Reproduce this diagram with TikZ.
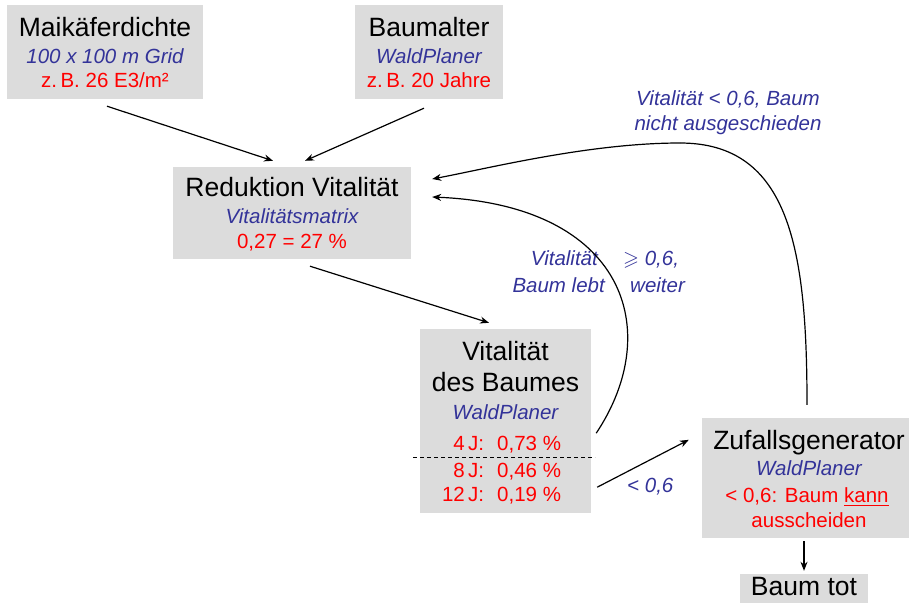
\documentclass[tikz,border=0pt]{standalone}
\usepackage{amssymb}
\usepackage{fontspec}
\setmainfont{Liberation Sans}
\usetikzlibrary{arrows.meta}
\definecolor{boxgray}{RGB}{220,220,220}
\definecolor{myblue}{RGB}{51,51,153}
\begin{document}
\begin{tikzpicture}[x=1pt,y=-1pt,
  box/.style={fill=boxgray,draw=none,inner sep=0pt},
  ttl/.style={font=\fontsize{26.5}{30}\selectfont,anchor=base,inner sep=0pt},
  sub/.style={font=\fontsize{20.5}{24}\selectfont\itshape,text=myblue,anchor=base,inner sep=0pt},
  val/.style={font=\fontsize{20.5}{24}\selectfont,text=red,anchor=base,inner sep=0pt},
  arr/.style={-{Stealth[length=9pt,width=7pt]},line width=1.2pt}]
\useasboundingbox (0,0) rectangle (909,603);
% boxes
\node[box,minimum width=196pt,minimum height=94pt] (mk) at (105,52) {};
\node[box,minimum width=148pt,minimum height=94pt] (ba) at (429,52) {};
\node[box,minimum width=238pt,minimum height=92pt] (rv) at (292,213) {};
\node[box,minimum width=171pt,minimum height=184pt] (vb) at (505.5,421) {};
\node[box,minimum width=207pt,minimum height=120pt] (zg) at (805.5,478) {};
\node[box,minimum width=128pt,minimum height=29pt] (bt) at (804,588.5) {};
% texts
\node[ttl] (mk1) at (105,36) {Maikäferdichte};
\node[sub] (mk2) at (105,63) {100 x 100 m Grid};
\node[val] (mk3) at (105,87) {z.\,B. 26 E3/m²};
\node[ttl] (ba1) at (429,36) {Baumalter};
\node[sub] (ba2) at (429,63) {WaldPlaner};
\node[val] (ba3) at (429,87) {z.\,B. 20 Jahre};
\node[ttl] (rv1) at (292,196) {Reduktion Vitalität};
\node[sub] (rv2) at (292,223) {Vitalitätsmatrix};
\node[val] (rv3) at (292,248) {0,27 = 27 \%};
\node[ttl] (vb1) at (505.5,360) {Vitalität};
\node[ttl] (vb2) at (505.5,391) {des Baumes};
\node[sub] (vb3) at (505.5,419) {WaldPlaner};
\node[val,anchor=base west] (vb4) at (447,450) {\makebox[37pt][r]{4\,J:}\hspace{13pt}0,73 \%};
\node[val,anchor=base west] (vb5) at (447,477) {\makebox[37pt][r]{8\,J:}\hspace{13pt}0,46 \%};
\node[val,anchor=base west] (vb6) at (447,501) {\makebox[37pt][r]{12\,J:}\hspace{13pt}0,19 \%};
\draw[dash pattern=on 4pt off 3pt,line width=0.9pt] (413,457) -- (595,457);
\node[ttl] (zg1) at (809,449) {Zufallsgenerator};
\node[sub] (zg2) at (809,475) {WaldPlaner};
\node[val] (zg3) at (807,502) {< 0,6: Baum \underline{kann}};
\node[val] (zg4) at (809,527) {ausscheiden};
\node[ttl] (bt1) at (804,595) {Baum tot};
% labels
\node[sub,anchor=base east] (l1) at (598,265) {Vitalität};
\node[sub,anchor=base west] (l2) at (623,265) {$\geqslant$ 0,6,};
\node[sub,anchor=base east] (l3) at (605,292) {Baum lebt};
\node[sub,anchor=base west] (l4) at (630,292) {weiter};
\node[sub] (l5) at (728,105) {Vitalität < 0,6, Baum};
\node[sub] (l6) at (728,130) {nicht ausgeschieden};
\node[sub,anchor=base west] (l7) at (627,492) {< 0,6};
% connectors
\draw[arr] ([xshift=2pt,yshift=-7pt]mk.south) -- ([xshift=-19pt,yshift=6pt]rv.north);
\draw[arr] ([xshift=-5pt,yshift=-9pt]ba.south) -- ([xshift=13pt,yshift=6pt]rv.north);
\draw[arr] ([xshift=18pt,yshift=-7pt]rv.south) -- ([xshift=-16.5pt,yshift=6pt]vb.north);
\draw[arr] ([xshift=6pt,yshift=26pt]vb.south east) -- ([xshift=-13pt,yshift=-22pt]zg.north west);
\draw[arr] ([xshift=-1.5pt,yshift=-3pt]zg.south) -- ([yshift=3pt]bt.north);
\draw[arr] ([xshift=5pt,yshift=80pt]vb.south east) .. controls (665,330) and (625,205) .. ([xshift=21pt,yshift=16pt]rv.east);
\draw[line width=1.2pt] ([xshift=1.5pt,yshift=13pt]zg.north) .. controls (807,250) and (790,143) .. (680,143) coordinate (c2);
\draw[arr] (c2) .. controls (590,143) and (490,168) .. ([xshift=21pt,yshift=34pt]rv.east);
\end{tikzpicture}
\end{document}
